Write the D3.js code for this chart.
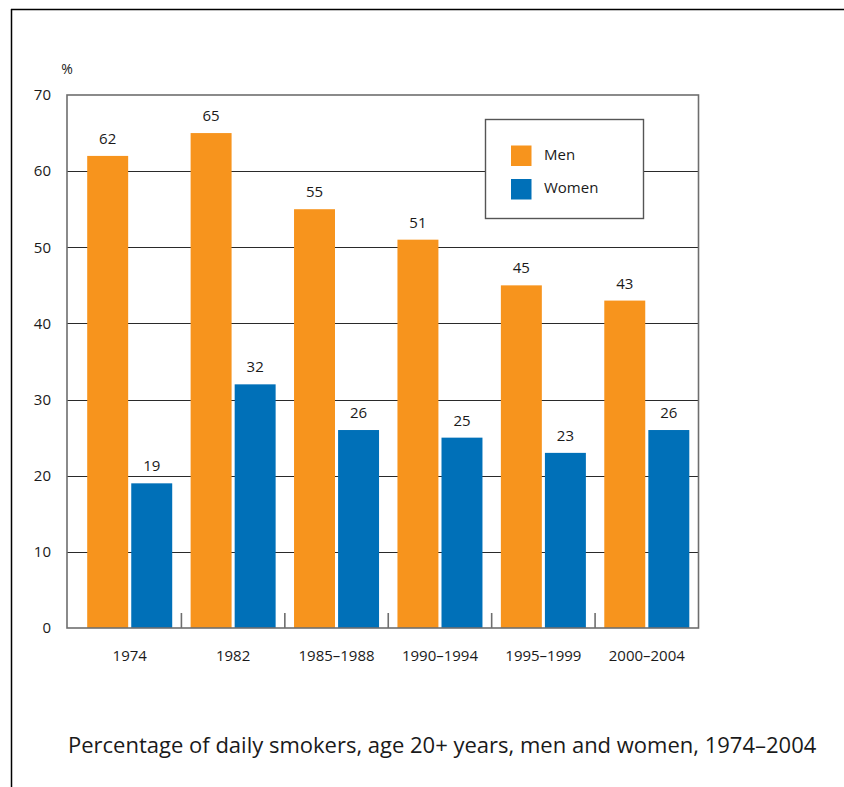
<!DOCTYPE html>
<html>
<head>
<meta charset="utf-8">
<script src="https://cdn.jsdelivr.net/npm/d3@7"></script>
<style>
  html, body { margin: 0; padding: 0; background: #fff; }
  svg { display: block; }
  text { font-family: "Open Sans", "Noto Sans", sans-serif; fill: #1a1a1a; }
</style>
</head>
<body>
<svg id="chart" width="844" height="787"></svg>
<script>
// Daily smokers aged 20+, percent
const categories = ["1974", "1982", "1985–1988", "1990–1994", "1995–1999", "2000–2004"];
const seriesNames = ["Men", "Women"];
const men = [62, 65, 55, 51, 45, 43];
const women = [19, 32, 26, 25, 23, 26];
const yTicks = [0, 10, 20, 30, 40, 50, 60, 70];
const colors = ["#f7941d", "#0070b8"];
const title = "Percentage of daily smokers, age 20+ years, men and women, 1974–2004";

const svg = d3.select("#chart");

// page frame: top and left rules
svg.append("line").attr("x1", 11).attr("x2", 844).attr("y1", 9.5).attr("y2", 9.5)
  .attr("stroke", "#000").attr("stroke-width", 1.5);
svg.append("line").attr("x1", 11.5).attr("x2", 11.5).attr("y1", 9).attr("y2", 787)
  .attr("stroke", "#000").attr("stroke-width", 1.5);

const plot = { left: 67, right: 698.5, top: 95, bottom: 628 };

const y = d3.scaleLinear().domain([0, 70]).range([plot.bottom, plot.top]);
const x0 = d3.scaleBand().domain(categories).range([78, plot.right]);
const x1 = d3.scaleBand().domain(seriesNames)
  .range([9.2, x0.bandwidth() - 9.2]).paddingInner(0.07);

const rows = categories.map((c, i) => ({ cat: c, values: [men[i], women[i]] }));

// horizontal gridlines
svg.append("g").selectAll("line").data(yTicks.filter(t => t > 0 && t < 70)).join("line")
  .attr("x1", plot.left).attr("x2", plot.right)
  .attr("y1", d => Math.round(y(d)) + 0.5).attr("y2", d => Math.round(y(d)) + 0.5)
  .attr("stroke", "#2a2a2a").attr("stroke-width", 1);

// y axis labels
const yAxis = d3.axisLeft(y).tickValues(yTicks).tickSize(0).tickPadding(16);
const yg = svg.append("g").attr("transform", `translate(${plot.left},0)`).call(yAxis);
yg.attr("font-size", null).attr("font-family", null);
yg.select(".domain").remove();
yg.selectAll("text").attr("font-size", 15).attr("fill", "#1a1a1a");

svg.append("text").attr("x", 67).attr("y", 74).attr("text-anchor", "middle")
  .attr("font-size", 14).text("%");

// bars
const groups = svg.append("g").selectAll("g").data(rows).join("g")
  .attr("transform", d => `translate(${x0(d.cat)},0)`);

groups.selectAll("rect").data(d => d.values.map((v, k) => ({ v, s: seriesNames[k], k })))
  .join("rect")
  .attr("x", d => x1(d.s)).attr("width", x1.bandwidth())
  .attr("y", d => y(d.v)).attr("height", d => y(0) - y(d.v))
  .attr("fill", d => colors[d.k]);

groups.selectAll("text.val").data(d => d.values.map((v, k) => ({ v, s: seriesNames[k] })))
  .join("text").attr("class", "val")
  .attr("x", d => x1(d.s) + x1.bandwidth() / 2)
  .attr("y", d => y(d.v) - 12)
  .attr("text-anchor", "middle").attr("font-size", 15)
  .text(d => d.v);

// plot frame
svg.append("rect").attr("x", plot.left).attr("y", plot.top)
  .attr("width", plot.right - plot.left).attr("height", plot.bottom - plot.top)
  .attr("fill", "none").attr("stroke", "#6e6e6e").attr("stroke-width", 1.6);

// x axis: separator ticks between groups, labels centred on groups
const xAxis = d3.axisBottom(x0).tickSize(0).tickPadding(22);
const xg = svg.append("g").attr("transform", `translate(0,${plot.bottom})`).call(xAxis);
xg.attr("font-size", null).attr("font-family", null);
xg.select(".domain").remove();
xg.selectAll("text").attr("font-size", 15).attr("fill", "#1a1a1a");

svg.append("g").selectAll("line").data(categories.slice(1)).join("line")
  .attr("x1", d => x0(d)).attr("x2", d => x0(d))
  .attr("y1", plot.bottom).attr("y2", plot.bottom - 15)
  .attr("stroke", "#6e6e6e").attr("stroke-width", 1.6);

// legend
const lg = svg.append("g").attr("transform", "translate(485.5,119.5)");
lg.append("rect").attr("width", 158).attr("height", 99)
  .attr("fill", "#fff").attr("stroke", "#555").attr("stroke-width", 1.4);
seriesNames.forEach((s, k) => {
  lg.append("rect").attr("x", 25.5).attr("y", 26 + k * 33.5).attr("width", 20.5).attr("height", 20.5)
    .attr("fill", colors[k]);
  lg.append("text").attr("x", 58.5).attr("y", 35 + k * 33.5).attr("dy", "0.35em")
    .attr("font-size", 15).text(s);
});

// caption
svg.append("text").attr("x", 68).attr("y", 753).attr("font-size", 22).text(title);
</script>
</body>
</html>
